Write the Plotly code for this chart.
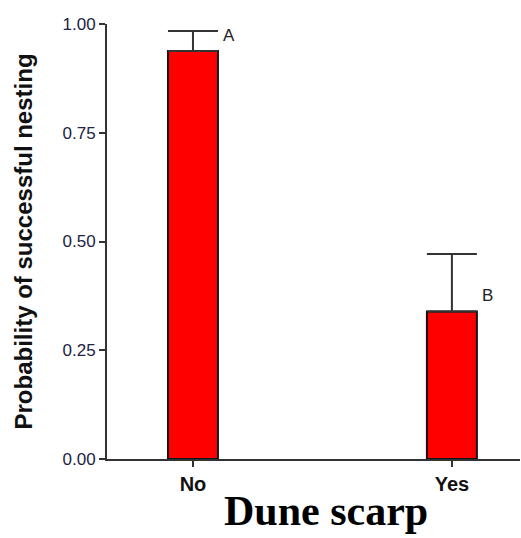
import plotly.graph_objects as go

# Nesting success by dune scarp presence
categories = ["No", "Yes"]
probability = [0.938, 0.339]
upper_error = [0.046, 0.132]
group_letters = ["A", "B"]

positions = list(range(len(categories)))

fig = go.Figure()
fig.add_trace(go.Bar(
    x=positions,
    y=probability,
    width=0.193,
    marker=dict(color="#ff0000", line=dict(color="#111111", width=2)),
    error_y=dict(
        type="data",
        symmetric=False,
        array=upper_error,
        arrayminus=[0] * len(categories),
        color="#333333",
        thickness=2,
        width=25,
    ),
    showlegend=False,
))

# significance letters beside each bar
letter_y = [probability[0] + upper_error[0] - 0.01, probability[1] + 0.038]
for pos, ly, letter in zip(positions, letter_y, group_letters):
    fig.add_annotation(
        x=pos + 0.11, y=ly,
        text=letter, showarrow=False, xanchor="left", yanchor="middle",
        font=dict(family="Arial, Liberation Sans", size=17, color="#222222"),
    )

# x-axis title
fig.add_annotation(
    xref="paper", yref="paper", x=0.530, y=-0.178,
    text="<b>Dune scarp</b>", showarrow=False, xanchor="center", yanchor="bottom",
    font=dict(family="Liberation Serif, Times New Roman", size=42, color="#000000"),
)

fig.update_layout(
    width=521, height=538,
    margin=dict(l=107, r=1, t=24, b=79),
    plot_bgcolor="white", paper_bgcolor="white",
    xaxis=dict(
        range=[-0.332, 1.263],
        tickvals=positions, ticktext=categories,
        showline=True, linecolor="#333333", linewidth=2,
        ticks="outside", ticklen=6, tickwidth=2, tickcolor="#333333",
        tickfont=dict(family="Arial, Liberation Sans", size=20, color="#111111", weight="bold"),
        showgrid=False, zeroline=False,
    ),
    yaxis=dict(
        range=[0, 1.0],
        tickvals=[0, 0.25, 0.5, 0.75, 1.0],
        ticktext=["0.00", "0.25", "0.50", "0.75", "1.00"],
        showline=True, linecolor="#333333", linewidth=2,
        ticks="outside", ticklen=6, tickwidth=2, tickcolor="#333333",
        tickfont=dict(family="Arial, Liberation Sans", size=17, color="#222244"),
        showgrid=False, zeroline=False,
        title=dict(text="Probability of successful nesting", standoff=23,
                   font=dict(family="Arial, Liberation Sans", size=24,
                             color="#111111", weight="bold")),
    ),
)

fig.write_html("out.html")
